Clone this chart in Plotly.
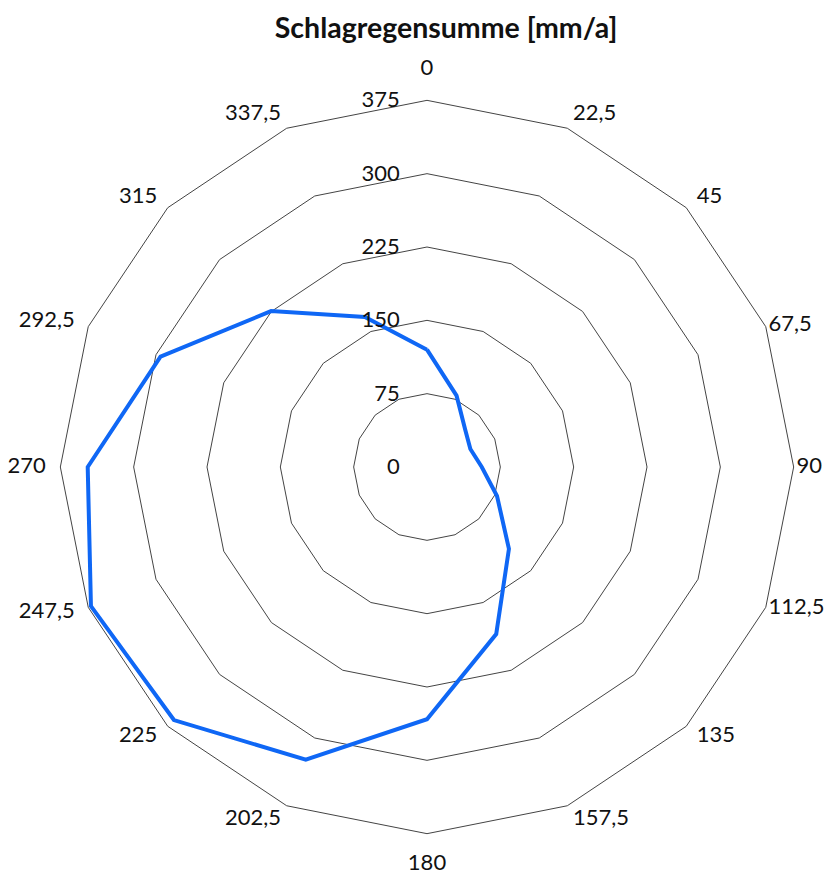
import plotly.graph_objects as go

directions = ["0", "22,5", "45", "67,5", "90", "112,5", "135", "157,5",
              "180", "202,5", "225", "247,5", "270", "292,5", "315", "337,5"]
rain_sum = [120, 79, 55, 48, 56, 77.5, 118.5, 185,
            258, 324, 366, 372, 347, 295, 225.5, 166]
radial_ticks = [0, 75, 150, 225, 300, 375]

R_AXIS = 405   # axis range goes past the outer ring so the labels fit inside


def label_place(i, n):
    # where a direction label hangs relative to its anchor, and how far out the anchor sits
    if i == 0:
        return "top center", 395
    if 2 * i == n:
        return "bottom center", 395
    if i < n / 2:
        # right-hand labels start after their anchor, pull the near-horizontal ones in
        return "middle right", 378 if n / 8 < i < 3 * n / 8 else 390
    return "middle left", 390


places = [label_place(i, len(directions)) for i in range(len(directions))]

fig = go.Figure()
fig.add_trace(go.Scatterpolar(
    r=rain_sum + rain_sum[:1], theta=directions + directions[:1],
    mode="lines", line=dict(color="#0f67f5", width=4), showlegend=False,
    hoverinfo="skip",
))
fig.add_trace(go.Scatterpolar(
    r=[p[1] for p in places], theta=directions, mode="text",
    text=directions, cliponaxis=False,
    textposition=[p[0] for p in places],
    textfont=dict(family="Lato", size=22, color="#111"), showlegend=False,
    hoverinfo="skip",
))

fig.update_layout(
    width=836, height=877,
    margin=dict(l=23, r=21, t=63, b=22),
    paper_bgcolor="white",
    font=dict(family="Lato", size=22, color="#111"),
    title=dict(text="<b>Schlagregensumme [mm/a]</b>", x=0.524, y=0.977, xanchor="center",
               yanchor="middle", font=dict(family="Lato", size=28.5, color="#111")),
    polar=dict(
        bgcolor="rgba(0,0,0,0)",
        gridshape="linear",
        angularaxis=dict(direction="clockwise", rotation=90, showgrid=False,
                         showline=False, showticklabels=False, ticks="",
                         categoryorder="array", categoryarray=directions),
        radialaxis=dict(range=[0, R_AXIS], tickvals=radial_ticks, angle=90,
                        side="counterclockwise", showline=False,
                        gridcolor="#444", gridwidth=1, tickangle=90,
                        ticks="outside", ticklen=19, tickcolor="rgba(0,0,0,0)"),
    ),
)

fig.write_html("out.html")
